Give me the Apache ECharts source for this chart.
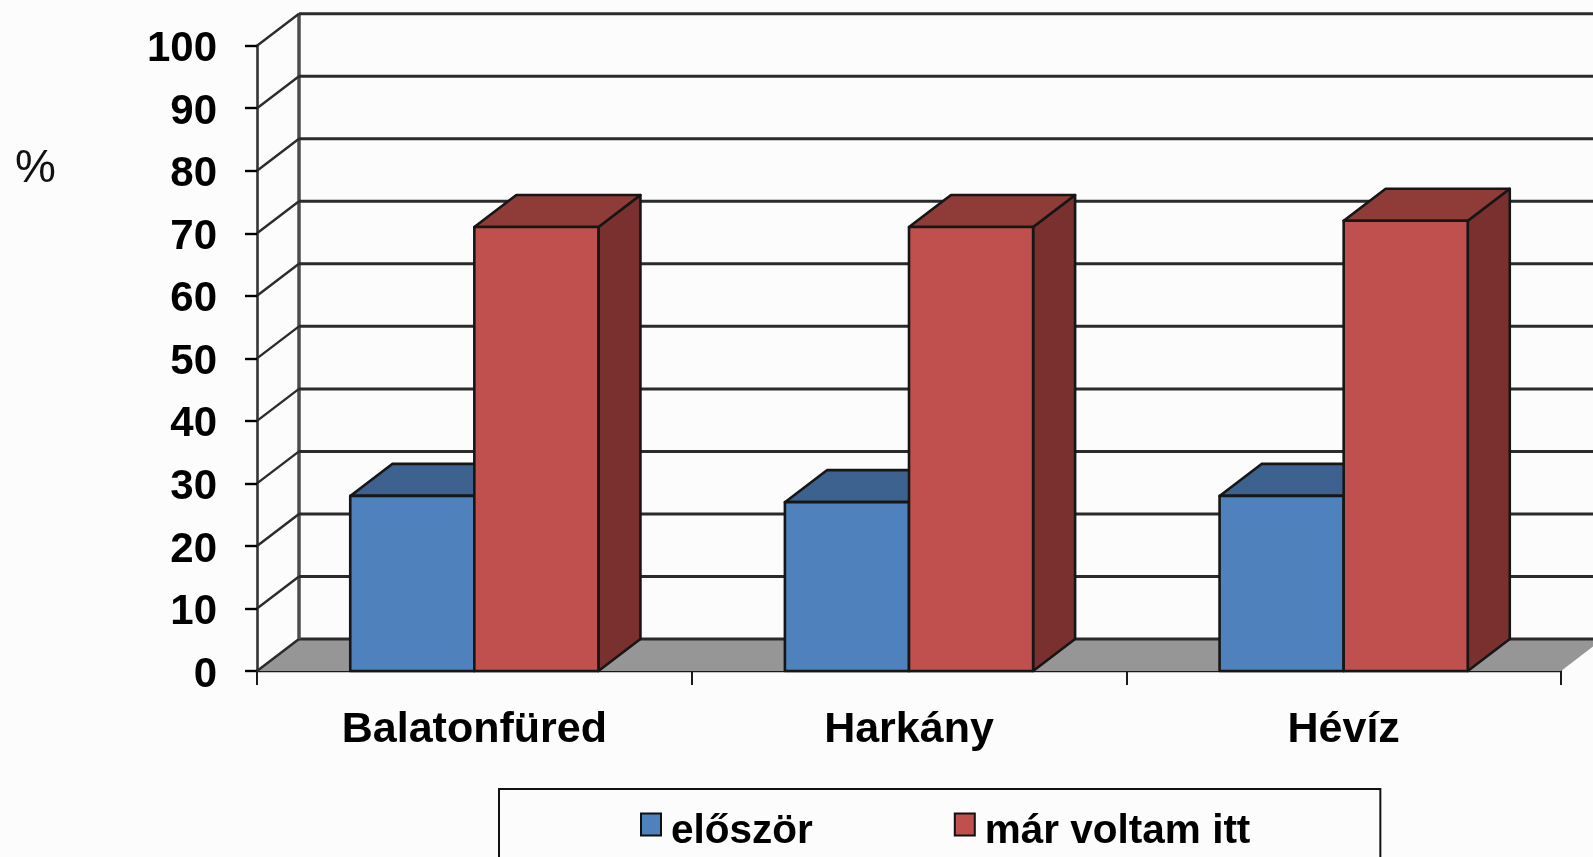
<!DOCTYPE html>
<html>
<head>
<meta charset="utf-8">
<title>Chart</title>
<style>
  html, body { margin: 0; padding: 0; background: #fcfcfc; overflow: hidden; }
  #chart { width: 1593px; height: 857px; }
</style>
</head>
<body>
<div id="chart"></div>
<script src="https://cdn.jsdelivr.net/npm/echarts@6/dist/echarts.min.js"></script>
<script>
const categories = ['Balatonfüred', 'Harkány', 'Hévíz']
const seriesNames = ['először', 'már voltam itt']
const firstVisit = [28, 27, 28]
const returning = [71, 71, 72]
const valueTicks = [0, 10, 20, 30, 40, 50, 60, 70, 80, 90, 100]

const FONT = '"Liberation Sans", Arial, sans-serif'
const DEPTH_X = 42
const DEPTH_Y = -32
const BAR_RATIO = 0.2855

const chart = echarts.init(document.getElementById('chart'))

// back wall, side wall and floor, one item per value tick
const renderWalls = (params, api) => {
  const box = params.coordSys
  const tick = api.value(1)
  const y = api.coord([0, tick])[1]
  const left = box.x
  const right = box.x + box.width
  const children = [
    { type: 'line', shape: { x1: left, y1: y, x2: left + DEPTH_X, y2: y + DEPTH_Y }, style: { stroke: '#2b2b2b', lineWidth: 2.4 } },
    { type: 'line', shape: { x1: left + DEPTH_X, y1: y + DEPTH_Y, x2: right + DEPTH_X, y2: y + DEPTH_Y }, style: { stroke: '#2b2b2b', lineWidth: 3 } }
  ]
  if (tick === 0) {
    children.unshift({
      type: 'polygon',
      shape: { points: [[left, y], [right, y], [right + DEPTH_X, y + DEPTH_Y], [left + DEPTH_X, y + DEPTH_Y]] },
      style: { fill: '#969696' }
    })
    children.push({
      type: 'line',
      shape: { x1: left + DEPTH_X, y1: y + DEPTH_Y, x2: left + DEPTH_X, y2: box.y + DEPTH_Y },
      style: { stroke: '#4d4d4d', lineWidth: 3.5 }
    })
  }
  return { type: 'group', children }
}

// 3D box: seriesIndex 0 sits left of the category centre, 1 right of it
const makeBox = (slot, front, top, side) => (params, api) => {
  const end = api.coord([api.value(0), api.value(1)])
  const base = api.coord([api.value(0), 0])
  const w = api.size([1, 0])[0] * BAR_RATIO
  const x0 = end[0] + slot * w
  const x1 = x0 + w
  const edge = { stroke: '#161616', lineWidth: 2.6, lineJoin: 'round' }
  return {
    type: 'group',
    children: [
      {
        type: 'polygon',
        shape: { points: [[x1, end[1]], [x1 + DEPTH_X, end[1] + DEPTH_Y], [x1 + DEPTH_X, base[1] + DEPTH_Y], [x1, base[1]]] },
        style: { fill: side, ...edge }
      },
      {
        type: 'polygon',
        shape: { points: [[x0, end[1]], [x0 + DEPTH_X, end[1] + DEPTH_Y], [x1 + DEPTH_X, end[1] + DEPTH_Y], [x1, end[1]]] },
        style: { fill: top, ...edge }
      },
      {
        type: 'rect',
        shape: { x: x0, y: end[1], width: w, height: base[1] - end[1] },
        style: { fill: front, ...edge }
      }
    ]
  }
}

const option = {
  animation: false,
  backgroundColor: '#fcfcfc',
  title: {
    text: '%',
    left: 10,
    top: 141,
    textStyle: { fontFamily: FONT, fontSize: 46, fontWeight: 'normal', color: '#111' }
  },
  grid: { left: 257, top: 45.7, width: 1304, height: 625.3 },
  xAxis: {
    type: 'category',
    data: categories,
    axisLine: { lineStyle: { color: '#1a1a1a', width: 2.4 } },
    axisTick: { show: true, alignWithLabel: false, length: 14, lineStyle: { color: '#1a1a1a', width: 2 } },
    axisLabel: { margin: 38, color: '#000', fontFamily: FONT, fontSize: 43, fontWeight: 'bold' }
  },
  yAxis: {
    type: 'value',
    min: 0,
    max: 100,
    interval: 10,
    splitLine: { show: false },
    axisLine: { show: true, lineStyle: { color: '#333', width: 2.6 } },
    axisTick: { show: true, length: 12, lineStyle: { color: '#000', width: 2.4 } },
    axisLabel: {
      margin: 40,
      formatter: '{v|{value}}',
      rich: { v: { padding: [8, 0, 0, 0], color: '#000', fontFamily: FONT, fontSize: 42, fontWeight: 'bold' } }
    }
  },
  legend: {
    data: seriesNames.map(name => ({ name, icon: 'rect' })),
    left: 499,
    top: 789,
    orient: 'horizontal',
    padding: [22, 130, 50, 141],
    itemGap: 141,
    itemWidth: 20,
    itemHeight: 22,
    borderColor: '#111',
    borderWidth: 2,
    selectedMode: false,
    formatter: name => `{t|${name}}`,
    textStyle: {
      color: '#000',
      fontFamily: FONT,
      fontSize: 40.5,
      fontWeight: 'bold',
      rich: { t: { padding: [14, 0, 0, 5], color: '#000', fontFamily: FONT, fontSize: 40.5, fontWeight: 'bold' } }
    }
  },
  series: [
    {
      name: 'háttér',
      type: 'custom',
      renderItem: renderWalls,
      data: valueTicks.map(t => [0, t]),
      encode: { x: 0, y: 1 },
      z: 1,
      silent: true
    },
    {
      name: seriesNames[0],
      type: 'custom',
      renderItem: makeBox(-1, '#4f81bd', '#3d6290', '#325278'),
      data: firstVisit.map((v, i) => [i, v]),
      encode: { x: 0, y: 1 },
      itemStyle: { color: '#4f81bd', borderColor: '#111', borderWidth: 2.4 },
      z: 3
    },
    {
      name: seriesNames[1],
      type: 'custom',
      renderItem: makeBox(0, '#c0504d', '#8f3b38', '#7a302e'),
      data: returning.map((v, i) => [i, v]),
      encode: { x: 0, y: 1 },
      itemStyle: { color: '#c0504d', borderColor: '#111', borderWidth: 2.4 },
      z: 4
    }
  ]
}

chart.setOption(option)
</script>
</body>
</html>
